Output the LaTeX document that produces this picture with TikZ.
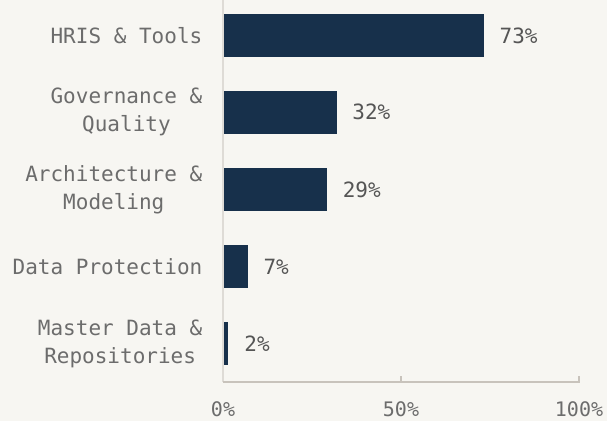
\documentclass[tikz,border=0pt]{standalone}
\usepackage{fontspec}
\setmainfont{DejaVu Sans Mono}
\usetikzlibrary{positioning}
\definecolor{paper}{HTML}{F7F6F2}
\definecolor{navy}{HTML}{17304B}
\definecolor{labelgray}{HTML}{6C6C6C}
\definecolor{valuegray}{HTML}{555555}
\definecolor{axisgray}{HTML}{C8C3BC}
\definecolor{spinegray}{HTML}{DEDBD6}

\begin{document}
\begin{tikzpicture}[x=1pt,y=-1pt,
    bar/.style={fill=navy,inner sep=0pt,minimum height=43pt,anchor=west},
    catlabel/.style={anchor=east,align=center,inner sep=0pt,text=labelgray,
        font=\fontsize{21}{28}\selectfont},
    vallabel/.style={anchor=west,inner sep=0pt,text=valuegray,
        font=\fontsize{21}{26}\selectfont},
    ticklabel/.style={anchor=base,inner sep=0pt,text depth=0pt,text=labelgray,
        font=\fontsize{20}{26}\selectfont}]
    \fill[paper] (0,0) rectangle (607,421);
    \useasboundingbox (0,0) rectangle (607,421);

    % axes
    \coordinate (origin) at (223,382);
    \coordinate (top) at (223,0);
    \coordinate (half) at (401,382);
    \coordinate (full) at (579,382);
    \draw[spinegray,line width=1.2pt] (top) -- (origin);
    \draw[axisgray,line width=1.2pt] (origin) -- (full) -- ++(0,-6);
    \draw[axisgray,line width=1.2pt] (half) -- ++(0,-6);

    % bars: length in percent / printed value / centre / name
    \foreach \len/\val/\y/\txt [count=\i] in {
        73/73/35.5/{HRIS \& Tools},
        31.6/32/112/{Governance \&\\Quality},
        28.9/29/189.5/{Architecture \&\\Modeling},
        6.6/7/266.5/{Data Protection},
        1.2/2/343.5/{Master Data \&\\Repositories}}
    {
        \node[bar,minimum width=3.555*\len pt] (bar\i) at (224,\y) {};
        \node[vallabel,right=15.5pt of bar\i] (val\i) {\val\%};
        \node[catlabel,left=21.5pt of bar\i.west] (cat\i) {\txt};
    }

    % tick labels
    \node[ticklabel] (t0) at ([yshift=-34.5pt]origin) {0\%};
    \node[ticklabel] (t50) at ([yshift=-34.5pt]half) {50\%};
    \node[ticklabel] (t100) at ([yshift=-34.5pt]full) {100\%};
\end{tikzpicture}
\end{document}
